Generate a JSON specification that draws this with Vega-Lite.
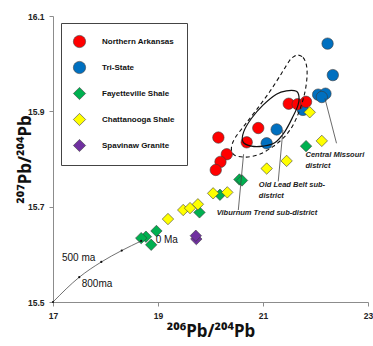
{
  "$schema": "https://vega.github.io/schema/vega-lite/v6.json",
  "autosize": {"type": "none"},
  "padding": {"left": 53, "top": 16, "right": 5, "bottom": 44},
  "width": 315,
  "height": 286,
  "background": "white",
  "config": {
    "view": {"stroke": null},
    "axis": {"grid": false, "domainColor": "#8c8c8c", "tickColor": "#8c8c8c", "tickSize": 4, "labelFont": "Liberation Sans", "labelFontWeight": "bold", "labelFontSize": 8.5, "labelColor": "#222", "titleFont": "Noto Sans", "titleFontWeight": "bold", "titleColor": "#111"},
    "legend": {"labelFont": "Liberation Sans", "labelFontWeight": "bold", "labelFontSize": 8, "labelColor": "#111"}
  },
  "layer": [
    {
      "data": {"values": [
        {"g": "Tri-State", "x": 22.23, "y": 16.042},
        {"g": "Tri-State", "x": 22.33, "y": 15.976},
        {"g": "Tri-State", "x": 22.05, "y": 15.935},
        {"g": "Tri-State", "x": 22.19, "y": 15.937},
        {"g": "Tri-State", "x": 22.12, "y": 15.93},
        {"g": "Tri-State", "x": 21.76, "y": 15.903},
        {"g": "Tri-State", "x": 21.26, "y": 15.862},
        {"g": "Tri-State", "x": 21.07, "y": 15.833},
        {"g": "Northern Arkansas", "x": 20.15, "y": 15.845},
        {"g": "Northern Arkansas", "x": 20.31, "y": 15.81},
        {"g": "Northern Arkansas", "x": 20.19, "y": 15.794},
        {"g": "Northern Arkansas", "x": 20.10, "y": 15.777},
        {"g": "Northern Arkansas", "x": 20.69, "y": 15.835},
        {"g": "Northern Arkansas", "x": 20.91, "y": 15.865},
        {"g": "Northern Arkansas", "x": 21.49, "y": 15.916},
        {"g": "Northern Arkansas", "x": 21.66, "y": 15.915},
        {"g": "Northern Arkansas", "x": 21.82, "y": 15.92},
        {"g": "Fayetteville Shale", "x": 21.82, "y": 15.827},
        {"g": "Fayetteville Shale", "x": 20.55, "y": 15.757},
        {"g": "Fayetteville Shale", "x": 20.60, "y": 15.755},
        {"g": "Fayetteville Shale", "x": 20.18, "y": 15.725},
        {"g": "Fayetteville Shale", "x": 19.79, "y": 15.688},
        {"g": "Fayetteville Shale", "x": 18.97, "y": 15.649},
        {"g": "Fayetteville Shale", "x": 18.87, "y": 15.620},
        {"g": "Fayetteville Shale", "x": 18.77, "y": 15.637},
        {"g": "Fayetteville Shale", "x": 18.68, "y": 15.634},
        {"g": "Chattanooga Shale", "x": 21.89, "y": 15.898},
        {"g": "Chattanooga Shale", "x": 22.12, "y": 15.838},
        {"g": "Chattanooga Shale", "x": 21.45, "y": 15.796},
        {"g": "Chattanooga Shale", "x": 21.07, "y": 15.780},
        {"g": "Chattanooga Shale", "x": 20.32, "y": 15.730},
        {"g": "Chattanooga Shale", "x": 20.05, "y": 15.728},
        {"g": "Chattanooga Shale", "x": 19.48, "y": 15.693},
        {"g": "Chattanooga Shale", "x": 19.61, "y": 15.697},
        {"g": "Chattanooga Shale", "x": 19.76, "y": 15.705},
        {"g": "Chattanooga Shale", "x": 19.19, "y": 15.674},
        {"g": "Spavinaw Granite", "x": 19.73, "y": 15.632},
        {"g": "Spavinaw Granite", "x": 19.72, "y": 15.639}
      ]},
      "mark": {"type": "point", "filled": true, "size": 130, "opacity": 1, "stroke": "#3a3a3a", "strokeWidth": 0.6},
      "encoding": {
        "x": {"field": "x", "type": "quantitative", "scale": {"domain": [17, 23], "nice": false, "zero": false},
          "axis": {"title": "²⁰⁶Pb/²⁰⁴Pb", "values": [17, 19, 21, 23], "format": "d", "labelPadding": 5, "titleFontSize": 17, "titlePadding": 4, "labelFlush": false}},
        "y": {"field": "y", "type": "quantitative", "scale": {"domain": [15.5, 16.1], "nice": false, "zero": false},
          "axis": {"title": "²⁰⁷Pb/²⁰⁴Pb", "values": [15.5, 15.7, 15.9, 16.1], "format": ".1f", "labelPadding": 5, "titleFontSize": 17, "titleX": -28, "titleY": 143, "titleAlign": "center", "titleBaseline": "middle", "titleAngle": -90, "labelFlush": false}},
        "color": {"field": "g", "type": "nominal", "scale": {"domain": ["Northern Arkansas", "Tri-State", "Fayetteville Shale", "Chattanooga Shale", "Spavinaw Granite"], "range": ["#ff0000", "#0070c0", "#00b050", "#ffff00", "#7030a0"]},
          "legend": {"title": null, "orient": "none", "legendX": 8, "legendY": 7, "fillColor": "white", "strokeColor": "#444", "padding": 12, "rowPadding": 11, "symbolSize": 150, "symbolStrokeColor": "#3a3a3a", "symbolStrokeWidth": 0.6, "labelOffset": 16}},
        "shape": {"field": "g", "type": "nominal", "scale": {"domain": ["Northern Arkansas", "Tri-State", "Fayetteville Shale", "Chattanooga Shale", "Spavinaw Granite"], "range": ["circle", "circle", "diamond", "diamond", "diamond"]},
          "legend": {"title": null, "orient": "none", "legendX": 8, "legendY": 7, "fillColor": "white", "strokeColor": "#444", "padding": 12, "rowPadding": 11, "symbolSize": 150, "symbolStrokeColor": "#3a3a3a", "symbolStrokeWidth": 0.6, "labelOffset": 16}}
      }
    },
    {
      "data": {"values": [
        {"i": 0, "x": 21.686, "y": 15.930}, {"i": 1, "x": 21.636, "y": 15.942}, {"i": 2, "x": 21.446, "y": 15.943}, {"i": 3, "x": 21.255, "y": 15.936}, {"i": 4, "x": 21.0, "y": 15.913}, {"i": 5, "x": 20.779, "y": 15.885}, {"i": 6, "x": 20.632, "y": 15.857}, {"i": 7, "x": 20.619, "y": 15.836}, {"i": 8, "x": 20.779, "y": 15.827}, {"i": 9, "x": 21.0, "y": 15.827}, {"i": 10, "x": 21.223, "y": 15.834}, {"i": 11, "x": 21.413, "y": 15.857}, {"i": 12, "x": 21.571, "y": 15.889}, {"i": 13, "x": 21.667, "y": 15.913}
      ]},
      "mark": {"type": "line", "interpolate": "cardinal-closed", "stroke": "#111", "strokeWidth": 1.2},
      "encoding": {"x": {"field": "x", "type": "quantitative"}, "y": {"field": "y", "type": "quantitative"}, "order": {"field": "i"}}
    },
    {
      "data": {"values": [
        {"i": 0, "x": 21.667, "y": 16.018}, {"i": 1, "x": 21.762, "y": 16.013}, {"i": 2, "x": 21.827, "y": 15.997}, {"i": 3, "x": 21.838, "y": 15.972}, {"i": 4, "x": 21.794, "y": 15.938}, {"i": 5, "x": 21.699, "y": 15.903}, {"i": 6, "x": 21.571, "y": 15.871}, {"i": 7, "x": 21.413, "y": 15.847}, {"i": 8, "x": 21.19, "y": 15.826}, {"i": 9, "x": 20.937, "y": 15.810}, {"i": 10, "x": 20.684, "y": 15.804}, {"i": 11, "x": 20.461, "y": 15.808}, {"i": 12, "x": 20.398, "y": 15.822}, {"i": 13, "x": 20.461, "y": 15.843}, {"i": 14, "x": 20.651, "y": 15.871}, {"i": 15, "x": 20.874, "y": 15.903}, {"i": 16, "x": 21.127, "y": 15.941}, {"i": 17, "x": 21.35, "y": 15.979}, {"i": 18, "x": 21.509, "y": 16.007}, {"i": 19, "x": 21.604, "y": 16.016}
      ]},
      "mark": {"type": "line", "interpolate": "cardinal-closed", "stroke": "#111", "strokeWidth": 1.1, "strokeDash": [4, 3]},
      "encoding": {"x": {"field": "x", "type": "quantitative"}, "y": {"field": "y", "type": "quantitative"}, "order": {"field": "i"}}
    },
    {
      "data": {"values": [
        {"x": 17.0, "y": 15.5}, {"x": 17.5, "y": 15.552}, {"x": 17.92, "y": 15.584}, {"x": 18.31, "y": 15.608}, {"x": 18.68, "y": 15.628}
      ]},
      "mark": {"type": "line", "interpolate": "monotone", "stroke": "#333", "strokeWidth": 0.7, "point": {"filled": true, "color": "#111", "size": 5}},
      "encoding": {"x": {"field": "x", "type": "quantitative"}, "y": {"field": "y", "type": "quantitative"}}
    },
    {
      "data": {"values": [
        {"x": 22.40, "y": 15.833, "x2": 22.18, "y2": 15.927},
        {"x": 21.29, "y": 15.753, "x2": 21.38, "y2": 15.861},
        {"x": 20.53, "y": 15.693, "x2": 20.63, "y2": 15.81}
      ]},
      "mark": {"type": "rule", "stroke": "#444", "strokeWidth": 0.8},
      "encoding": {"x": {"field": "x", "type": "quantitative"}, "y": {"field": "y", "type": "quantitative"}, "x2": {"field": "x2"}, "y2": {"field": "y2"}}
    },
    {
      "data": {"values": [
        {"t": "Central Missouri", "x": 21.81, "y": 15.808},
        {"t": "district", "x": 21.81, "y": 15.786},
        {"t": "Old Lead Belt sub-", "x": 20.92, "y": 15.746},
        {"t": "district", "x": 20.92, "y": 15.723},
        {"t": "Viburnum Trend sub-district", "x": 20.12, "y": 15.686}
      ]},
      "mark": {"type": "text", "align": "left", "baseline": "middle", "font": "Liberation Sans", "fontStyle": "italic", "fontWeight": "bold", "fontSize": 7.5, "color": "#222"},
      "encoding": {"x": {"field": "x", "type": "quantitative"}, "y": {"field": "y", "type": "quantitative"}, "text": {"field": "t"}}
    },
    {
      "data": {"values": [
        {"t": "500 ma", "x": 17.17, "y": 15.592},
        {"t": "800ma", "x": 17.547, "y": 15.538},
        {"t": "0 Ma", "x": 18.956, "y": 15.630}
      ]},
      "mark": {"type": "text", "align": "left", "baseline": "middle", "font": "Liberation Sans", "fontSize": 10, "color": "#111"},
      "encoding": {"x": {"field": "x", "type": "quantitative"}, "y": {"field": "y", "type": "quantitative"}, "text": {"field": "t"}}
    }
  ]
}
